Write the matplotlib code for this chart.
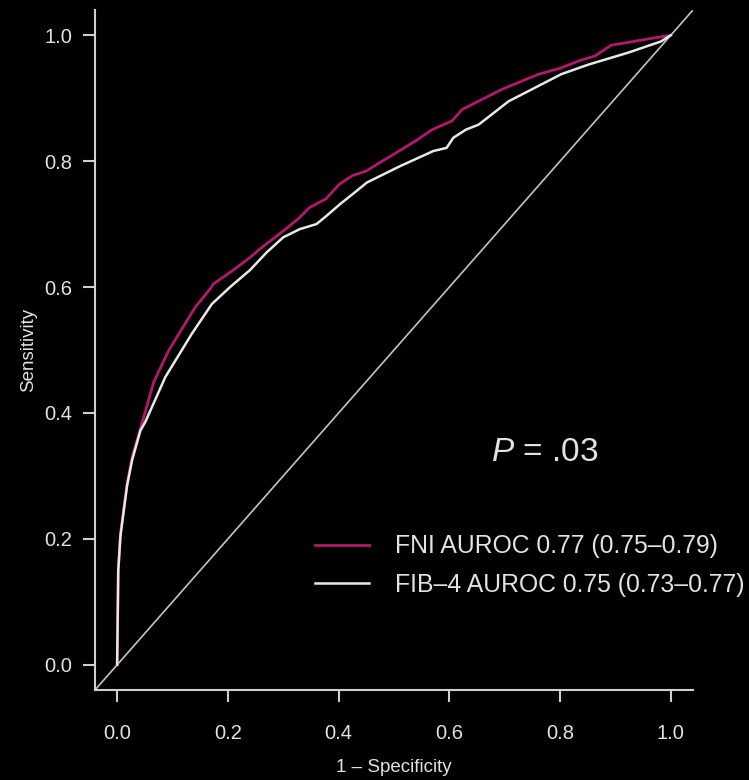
import matplotlib

matplotlib.use("Agg")
import matplotlib.pyplot as plt

# ROC points (1 - specificity, sensitivity)
fni_fpr = [0.0, 0.002, 0.006, 0.018, 0.027, 0.042, 0.066, 0.093, 0.141, 0.168, 0.174,
           0.2, 0.216, 0.24, 0.26, 0.30, 0.329, 0.347, 0.377, 0.401, 0.425, 0.449,
           0.479, 0.509, 0.539, 0.569, 0.605, 0.623, 0.695, 0.761, 0.802, 0.833,
           0.863, 0.892, 0.952, 1.0]
fni_tpr = [0.0, 0.15, 0.209, 0.288, 0.33, 0.375, 0.449, 0.499, 0.568, 0.597, 0.605,
           0.621, 0.631, 0.647, 0.662, 0.689, 0.710, 0.726, 0.740, 0.763, 0.777, 0.784,
           0.80, 0.816, 0.832, 0.850, 0.864, 0.882, 0.914, 0.938, 0.948, 0.959,
           0.967, 0.984, 0.993, 1.0]
fib_fpr = [0.0, 0.002, 0.006, 0.018, 0.027, 0.042, 0.051, 0.087, 0.135, 0.171, 0.204,
           0.24, 0.27, 0.3, 0.33, 0.36, 0.378, 0.403, 0.433, 0.451, 0.511, 0.571,
           0.595, 0.607, 0.63, 0.653, 0.707, 0.802, 0.85, 0.922, 0.982, 1.0]
fib_tpr = [0.0, 0.15, 0.205, 0.285, 0.325, 0.372, 0.386, 0.457, 0.526, 0.573, 0.60,
           0.627, 0.655, 0.679, 0.692, 0.70, 0.713, 0.732, 0.753, 0.766, 0.792, 0.816,
           0.821, 0.837, 0.85, 0.858, 0.895, 0.938, 0.953, 0.972, 0.99, 1.0]
labels = ["FNI AUROC 0.77 (0.75\u20130.79)", "FIB\u20134 AUROC 0.75 (0.73\u20130.77)"]
ticks = [0.0, 0.2, 0.4, 0.6, 0.8, 1.0]
p_text = r"$P$ = .03"

C_FNI = "#b5176f"; C_FIB = "#e8e8e8"; C_AX = "#cfcfcf"; C_TXT = "#e2e2e2"

plt.rcParams["font.family"] = ["Liberation Sans", "DejaVu Sans"]
plt.rcParams["mathtext.fontset"] = "custom"
plt.rcParams["mathtext.it"] = "Liberation Sans:italic"
plt.rcParams["mathtext.rm"] = "Liberation Sans"

fig = plt.figure(figsize=(7.49, 7.80), dpi=100, facecolor="black")
ax = fig.add_axes([95 / 749, 90 / 780, 598 / 749, 680 / 780], facecolor="black")
ax.set_xlim(-0.04, 1.04); ax.set_ylim(-0.04, 1.04)

ax.axline((0, 0), slope=1, color="#c4c4c4", lw=1.2)
ax.plot(fni_fpr, fni_tpr, color=C_FNI, lw=2.0, label=labels[0])
ax.plot(fib_fpr, fib_tpr, color=C_FIB, lw=1.8, label=labels[1])

for s in ("top", "right"):
    ax.spines[s].set_visible(False)
for s in ("left", "bottom"):
    ax.spines[s].set_color(C_AX); ax.spines[s].set_linewidth(1.5)

ax.set_xticks(ticks); ax.set_yticks(ticks)
ax.set_xticklabels([f"{t:.1f}" for t in ticks]); ax.set_yticklabels([f"{t:.1f}" for t in ticks])
ax.tick_params(axis="both", colors=C_AX, labelcolor=C_TXT, length=8.5, width=1.5, labelsize=14.5)
ax.tick_params(axis="x", pad=16); ax.tick_params(axis="y", pad=8)

ax.set_xlabel("1 \u2013 Specificity", color=C_TXT, fontsize=13.5)
ax.set_ylabel("Sensitivity", color=C_TXT, fontsize=13.5)
ax.xaxis.set_label_coords(0.5, -0.101)
ax.yaxis.set_label_coords(-0.097, 0.5)

ax.text(0.773, 0.337, p_text, color=C_TXT, fontsize=24, ha="center", va="center")

leg = ax.legend(loc="center left", bbox_to_anchor=(0.368, 0.183), frameon=False,
                fontsize=17.8, handlelength=2.2, handletextpad=1.05, labelspacing=0.58,
                borderpad=0, borderaxespad=0)
for t in leg.get_texts():
    t.set_color(C_TXT)

fig.savefig("out.png", dpi=100, facecolor="black")
